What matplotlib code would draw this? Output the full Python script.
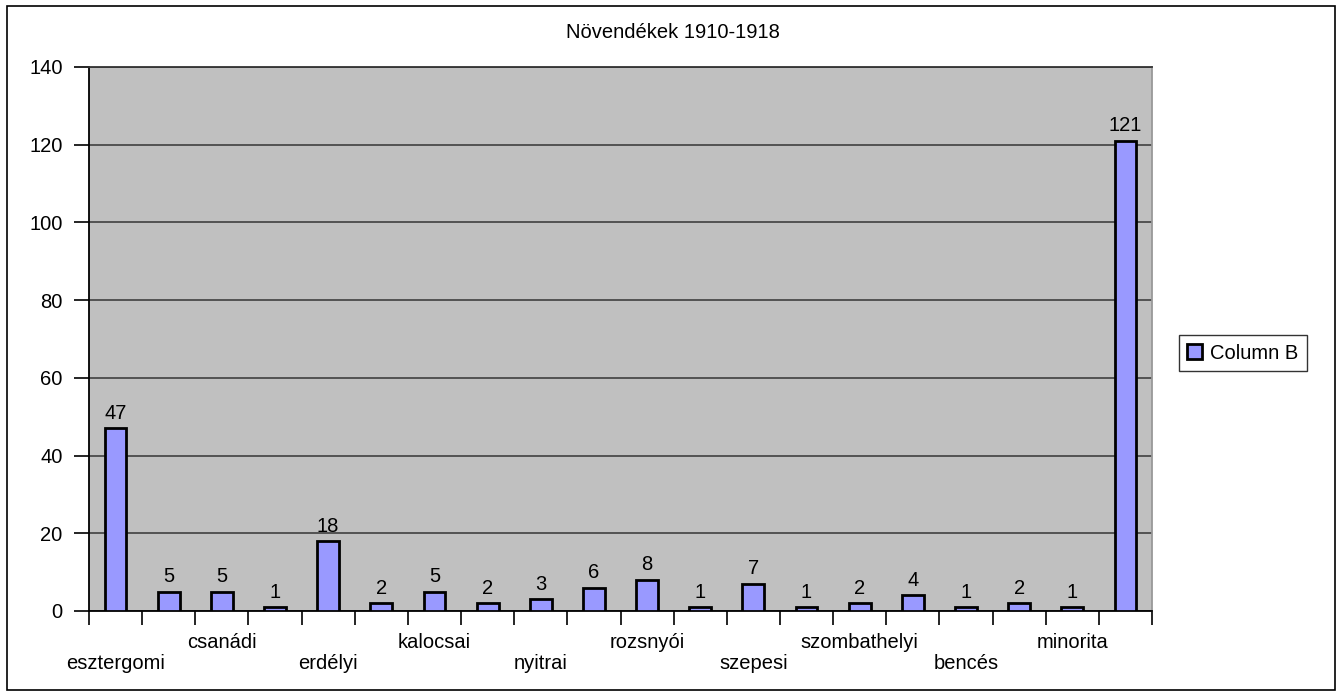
import matplotlib
matplotlib.use("Agg")
import matplotlib.pyplot as plt
from matplotlib.patches import Rectangle

plt.rcParams['font.family'] = ['Liberation Sans', 'DejaVu Sans']

title = "Növendékek 1910-1918"
series_name = "Column B"
categories = ["esztergomi", "", "csanádi", "", "erdélyi", "", "kalocsai", "",
              "nyitrai", "", "rozsnyói", "", "szepesi", "", "szombathelyi", "",
              "bencés", "", "minorita", ""]
values = [47, 5, 5, 1, 18, 2, 5, 2, 3, 6, 8, 1, 7, 1, 2, 4, 1, 2, 1, 121]
yticks = [0, 20, 40, 60, 80, 100, 120, 140]

FS = 14.5
fig = plt.figure(figsize=(13.43, 7.0), dpi=100)
fig.patches.append(Rectangle((7/1343, 1-690/700), (1335-7)/1343, (690-6)/700,
                             transform=fig.transFigure, fill=False,
                             edgecolor='black', linewidth=1.2))
ax = fig.add_axes([89/1343, 1-611/700, 1063/1343, 544/700])
ax.set_facecolor('#c0c0c0')

x = list(range(len(values)))
bars = ax.bar(x, values, width=0.41, color='#9999ff', edgecolor='black',
              linewidth=2.0, zorder=3, label=series_name)
ax.bar_label(bars, labels=[str(v) for v in values], padding=4, fontsize=FS)

ax.set_xlim(-0.5, len(values) - 0.5)
ax.set_ylim(0, 140)
ax.set_yticks(yticks)
ax.set_yticklabels([str(t) for t in yticks], fontsize=FS)
ax.yaxis.grid(True, color='#404040', linewidth=1.2, zorder=1)
ax.set_axisbelow(True)
ax.tick_params(axis='y', length=11, width=1.2, pad=8, color='black')

# category labels, staggered in two rows
ax.set_xticks(x)
lbls = []
for i, c in enumerate(categories):
    if c == "":
        lbls.append("")
    elif (i // 2) % 2 == 0:
        lbls.append("\n" + c)
    else:
        lbls.append(c)
ax.set_xticklabels(lbls, fontsize=FS, linespacing=1.15)
ax.tick_params(axis='x', which='major', length=0, pad=16)
ax.set_xticks([i - 0.5 for i in range(len(values) + 1)], minor=True)
ax.tick_params(axis='x', which='minor', length=10, width=1.2, color='black')

for s in ['left', 'bottom']:
    ax.spines[s].set_color('black')
    ax.spines[s].set_linewidth(1.3)
ax.spines['top'].set_color('#333333')
ax.spines['top'].set_linewidth(1.3)
ax.spines['right'].set_color('#999999')
ax.spines['right'].set_linewidth(1.3)

fig.text(673/1343, 1-33/700, title, ha='center', va='center', fontsize=FS)

leg = fig.legend(handles=[bars], labels=[series_name], loc='center left',
                 bbox_to_anchor=(1179/1343, 1-353/700), fontsize=FS,
                 frameon=True, fancybox=False, handlelength=0.75,
                 handleheight=0.75, handletextpad=0.4, borderpad=0.4,
                 borderaxespad=0)
leg.get_frame().set_edgecolor('black')
leg.get_frame().set_linewidth(1.0)
for h in leg.legend_handles:
    h.set_linewidth(2.0)

fig.savefig("out.png", dpi=100)
